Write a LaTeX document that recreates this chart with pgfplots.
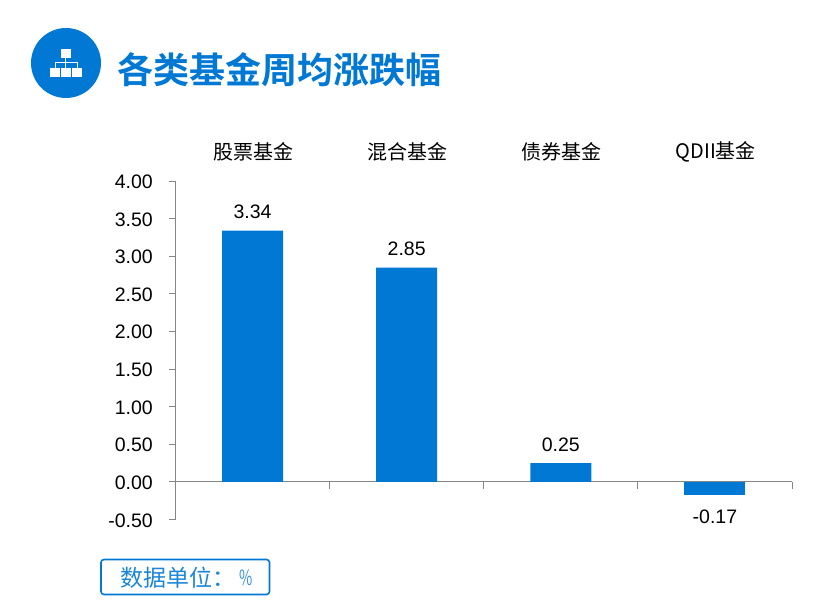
\documentclass[border=0pt]{standalone}
\usepackage{fontspec}
\usepackage{graphicx}
\usepackage{pgfplots}
\pgfplotsset{compat=1.18}
\setmainfont{Liberation Sans}
\newfontfamily\cjk{Noto Sans CJK SC}
\newfontfamily\cjkb{Noto Sans CJK SC Bold}
\definecolor{mainblue}{HTML}{0078D4}
\definecolor{axisgray}{HTML}{868686}
\begin{document}
\begin{tikzpicture}[x=1pt,y=1pt]
\path (0,0) rectangle (830,607);
% icon
\fill[mainblue] (66,544) circle (35);
\fill[white] (60.7,549) rectangle (70.7,558);
\fill[white] (50,530) rectangle (60,539);
\fill[white] (61,530) rectangle (71,539);
\fill[white] (72,530) rectangle (82,539);
\draw[white,line width=1pt] (65.7,549) -- (65.7,539) (55,539) -- (55,544.5) -- (77,544.5) -- (77,539);
% title
\node[anchor=west,inner sep=0pt,text=mainblue,font=\fontsize{36}{36}\cjkb] at (117,537) {各类基金周均涨跌幅};
% unit box
\draw[mainblue,line width=1.6pt,rounded corners=3pt] (101,12.5) rectangle (269.5,47.5);
\node[anchor=west,inner sep=0pt,text=mainblue!90!white,font=\fontsize{23}{23}\cjk] at (120,29) {数据单位：};
\node[anchor=west,inner sep=0pt,text=mainblue!80!white,font=\fontsize{20}{20}\cjk] at (239,29) {\scalebox{0.72}[1.05]{\%}};
\begin{axis}[
  at={(175.5pt,87.5pt)},anchor=south west,
  scale only axis,width=616.5pt,height=338.5pt,
  xmin=-0.5,xmax=3.5,ymin=-0.5,ymax=4,
  axis y line=left,
  axis x line=middle,
  axis line style={axisgray,line width=0.8pt,-},
  xtick={0.5,1.5,2.5,3.5},xticklabels={},
  ytick={-0.5,0,0.5,1,1.5,2,2.5,3,3.5,4},
  tick align=outside,
  major tick length=7pt,
  tick style={axisgray,line width=0.8pt},
  yticklabel style={yshift=-0.8pt,/pgf/number format/.cd,fixed,fixed zerofill,precision=2,assume math mode=true},
  ticklabel style={font=\fontsize{19.5}{20}\selectfont,inner sep=0pt},
  yticklabel shift=15.5pt,
  clip=false,
  ybar,
  bar width=61pt,
  bar shift=0pt,
  nodes near coords,
  nodes near coords align={vertical},
  point meta=y,
  every node near coord/.append style={font=\fontsize{19.5}{20}\selectfont,text=black,inner ysep=11.5pt,
     /pgf/number format/.cd,fixed,fixed zerofill,precision=2,assume math mode=true,/tikz/.cd},
]
\addplot[fill=mainblue,draw=none] coordinates {(0,3.34)(1,2.85)(2,0.25)};
\addplot[fill=mainblue,draw=none,every node near coord/.append style={yshift=-3.5pt}] coordinates {(3,-0.17)};
\node[font=\fontsize{20}{20}\cjk] at (axis cs:0.005,4.39) {股票基金};
\node[font=\fontsize{20}{20}\cjk] at (axis cs:1.005,4.39) {混合基金};
\node[font=\fontsize{20}{20}\cjk] at (axis cs:2.005,4.39) {债券基金};
\node[font=\fontsize{20}{20}\cjk] at (axis cs:3.005,4.39) {QDII基金};
\end{axis}
\end{tikzpicture}
\end{document}
